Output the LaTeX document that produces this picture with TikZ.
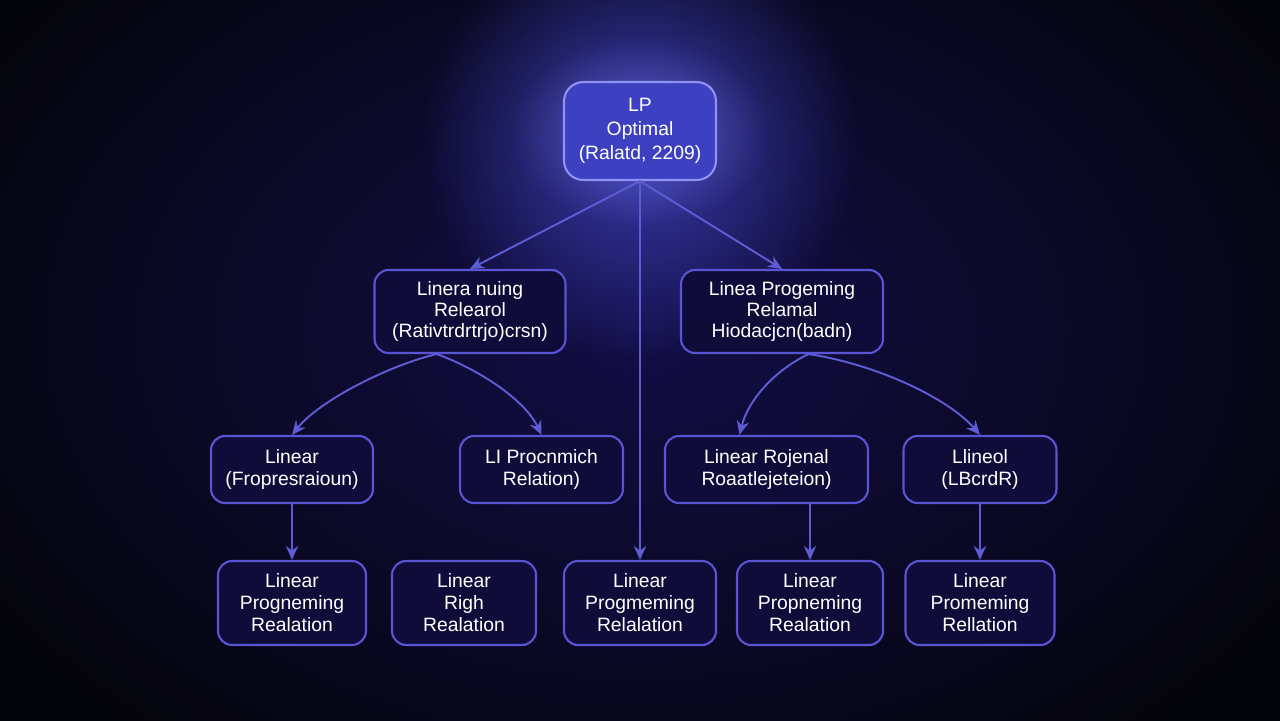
\documentclass[tikz,border=0pt]{standalone}
\usepackage{fontspec}
\setmainfont{Liberation Sans}
\usetikzlibrary{arrows.meta,fadings}
\definecolor{bgdark}{HTML}{04040B}
\definecolor{bgmid}{HTML}{130E46}
\definecolor{glowblue}{HTML}{4A4FE0}
\definecolor{rootfill}{HTML}{3D40C0}
\definecolor{rootedge}{HTML}{8E92F4}
\definecolor{boxfill}{HTML}{100C3A}
\definecolor{boxedge}{HTML}{5A54D4}
\definecolor{linkc}{HTML}{5E5CD4}
\tikzfading[name=glowfade, inner color=transparent!0, outer color=transparent!100]
\begin{document}
\begin{tikzpicture}[x=0.02cm, y=-0.02cm, >={Stealth[length=8pt,width=7pt]},
    box/.style={draw=boxedge, fill=boxfill, line width=1.2pt, rounded corners=8pt, align=center,
        text=white, inner sep=2pt, font=\fontsize{11}{12.5}\selectfont},
    link/.style={->, draw=linkc, line width=1.1pt}]
    % Background and glow
    \useasboundingbox (0,0) rectangle (1280,720);
    \fill[bgdark] (-20,-20) rectangle (1300,740);
    \shade[inner color=bgmid, outer color=bgdark] (640,330) ellipse (780 and 540);
    \fill[glowblue, path fading=glowfade, opacity=0.75] (640,140) circle (220);
    \fill[glowblue!70!white, path fading=glowfade, opacity=0.45] (640,131) ellipse (130 and 95);
    % Root
    \node[box, fill=rootfill, draw=rootedge, rounded corners=11pt, minimum width=3.04cm, minimum height=1.96cm,
        font=\fontsize{11}{13.5}\selectfont] (root) at (640,131) {LP\\Optimal\\(Ralatd, 2209)};
    % Second level
    \node[box, minimum width=3.82cm, minimum height=1.66cm, font=\fontsize{11}{12}\selectfont] (midL) at (470,311.5) {Linera nuing\\Relearol\\(Rativtrdrtrjo)crsn)};
    \node[box, minimum width=4.04cm, minimum height=1.66cm, font=\fontsize{11}{12}\selectfont] (midR) at (782,311.5) {Linea Progeming\\Relamal\\Hiodacjcn(badn)};
    % Third level
    \node[box, minimum width=3.24cm, minimum height=1.34cm] (subA) at (292,469.5) {Linear\\(Fropresraioun)};
    \node[box, minimum width=3.26cm, minimum height=1.34cm] (subB) at (541.5,469.5) {LI Procnmich\\Relation)};
    \node[box, minimum width=4.06cm, minimum height=1.34cm] (subC) at (766.5,469.5) {Linear Rojenal\\Roaatlejeteion)};
    \node[box, minimum width=3.06cm, minimum height=1.34cm] (subD) at (980,469.5) {Llineol\\(LBcrdR)};
    % Leaves
    \node[box, minimum width=2.96cm, minimum height=1.68cm] (leafA) at (292,603) {Linear\\Progneming\\Realation};
    \node[box, minimum width=2.88cm, minimum height=1.68cm] (leafB) at (464,603) {Linear\\Righ\\Realation};
    \node[box, minimum width=3.04cm, minimum height=1.68cm] (leafC) at (640,603) {Linear\\Progmeming\\Relalation};
    \node[box, minimum width=2.92cm, minimum height=1.68cm] (leafD) at (810,603) {Linear\\Propneming\\Realation};
    \node[box, minimum width=2.98cm, minimum height=1.68cm] (leafE) at (980,603) {Linear\\Promeming\\Rellation};
    % Links from the root
    \draw[link] (root.south) -- (midL.north);
    \draw[link] (root.south) -- (midR.north);
    \draw[link] (root.south) -- (leafC.north);
    % Curved branches
    \draw[link] (midL.232) .. controls (390,365) and (320,400) .. (subA.north);
    \draw[link] (midL.232) .. controls (480,370) and (525,400) .. (subB.north);
    \draw[link] (midR.302) .. controls (775,370) and (748,400) .. (subC.128);
    \draw[link] (midR.302) .. controls (880,365) and (950,400) .. (subD.north);
    % Down to the leaves
    \draw[link] (subA.south) -- (leafA.north);
    \draw[link] (leafD.north |- subC.south) -- (leafD.north);
    \draw[link] (subD.south) -- (leafE.north);
\end{tikzpicture}
\end{document}
